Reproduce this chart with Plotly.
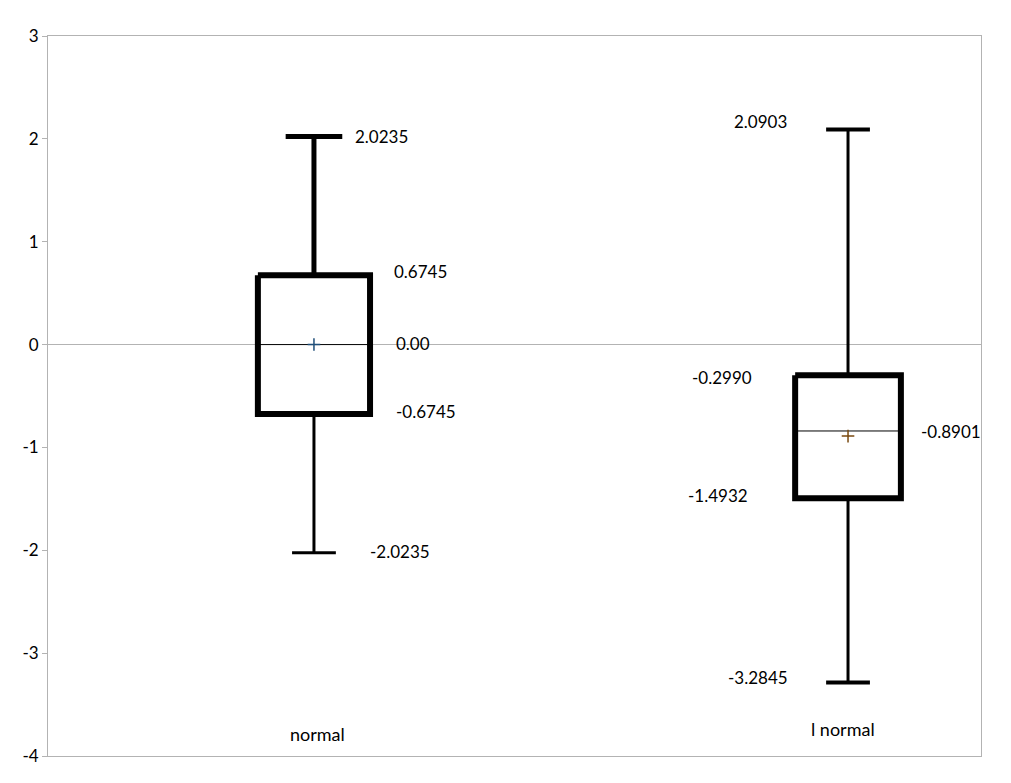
import plotly.graph_objects as go

# ---- data ----
categories = ["normal", "l normal"]
max_vals = [2.0235, 2.0903]
q3_vals = [0.6745, -0.2990]
median_vals = [0.0, -0.84]
mean_vals = [0.0, -0.8901]
q1_vals = [-0.6745, -1.4932]
min_vals = [-2.0235, -3.2845]

# value labels shown next to each box (text, value they sit at)
label_texts = [
    ["2.0235", "0.6745", "0.00", "-0.6745", "-2.0235"],
    ["2.0903", "-0.2990", "-0.8901", "-1.4932", "-3.2845"],
]
label_values = [
    [2.0235, 0.6745, 0.0, -0.6745, -2.0235],
    [2.0903, -0.2990, -0.8901, -1.4932, -3.2845],
]
tick_vals = [-4, -3, -2, -1, 0, 1, 2, 3]
tick_texts = ["-4", "-3", "-2", "-1", "0", "1", "2", "3"]

# ---- style ----
FONT = "Lato"
GRAY = "#b3b3b3"
box_half = [0.105, 0.099]
upper_cap_half = [0.053, 0.041]
lower_cap_half = [0.041, 0.041]
upper_whisker_w = [5, 3]
lower_whisker_w = [3, 3]
upper_cap_w = [5, 4]
lower_cap_w = [3, 4]
mean_colors = ["#1f4e79", "#7a4a10"]
label_dx = [
    [0.127, 0.200, 0.185, 0.210, 0.161],
    [-0.163, -0.236, 0.193, -0.243, -0.169],
]
label_dy = [
    [0, 4, 1, 2, 1],
    [8, -2, 5, 3, 5],
]
cat_yshift = [22, 27]
cat_dx = [0.007, -0.009]

fig = go.Figure()

for i, cat in enumerate(categories):
    x = i
    bw = box_half[i]
    # upper whisker + cap
    fig.add_trace(go.Scatter(x=[x, x], y=[q3_vals[i], max_vals[i]], mode="lines",
                             line=dict(color="black", width=upper_whisker_w[i]),
                             showlegend=False, hoverinfo="skip"))
    fig.add_trace(go.Scatter(x=[x - upper_cap_half[i], x + upper_cap_half[i]],
                             y=[max_vals[i], max_vals[i]], mode="lines",
                             line=dict(color="black", width=upper_cap_w[i]),
                             showlegend=False, hoverinfo="skip"))
    # lower whisker + cap
    fig.add_trace(go.Scatter(x=[x, x], y=[q1_vals[i], min_vals[i]], mode="lines",
                             line=dict(color="black", width=lower_whisker_w[i]),
                             showlegend=False, hoverinfo="skip"))
    fig.add_trace(go.Scatter(x=[x - lower_cap_half[i], x + lower_cap_half[i]],
                             y=[min_vals[i], min_vals[i]], mode="lines",
                             line=dict(color="black", width=lower_cap_w[i]),
                             showlegend=False, hoverinfo="skip"))
    # box
    fig.add_trace(go.Scatter(x=[x - bw, x + bw, x + bw, x - bw, x - bw],
                             y=[q3_vals[i], q3_vals[i], q1_vals[i], q1_vals[i], q3_vals[i]],
                             mode="lines", fill="toself", fillcolor="white",
                             line=dict(color="black", width=6),
                             showlegend=False, hoverinfo="skip"))
    # median
    fig.add_trace(go.Scatter(x=[x - bw, x + bw], y=[median_vals[i], median_vals[i]],
                             mode="lines", line=dict(color="black", width=1),
                             showlegend=False, hoverinfo="skip"))
    # mean
    fig.add_trace(go.Scatter(x=[x], y=[mean_vals[i]], mode="markers",
                             marker=dict(symbol="cross-thin", size=9,
                                         line=dict(color=mean_colors[i], width=1.5)),
                             showlegend=False, hoverinfo="skip"))
    # value labels
    for t, v, dx, dy in zip(label_texts[i], label_values[i], label_dx[i], label_dy[i]):
        fig.add_annotation(x=x + dx, y=v, text=t, showarrow=False, xref="x", yref="y",
                           xanchor="center", yanchor="middle", yshift=dy,
                           font=dict(family=FONT, size=17, color="black"))
    # category label
    fig.add_annotation(x=x + cat_dx[i], y=-4, text=cat, showarrow=False, xref="x", yref="y",
                       xanchor="center", yanchor="middle", yshift=cat_yshift[i],
                       font=dict(family=FONT, size=18, color="black"))

fig.update_layout(
    width=995, height=767,
    margin=dict(l=40, r=22, t=28, b=19, autoexpand=False),
    paper_bgcolor="white", plot_bgcolor="white",
    font=dict(family=FONT, size=17, color="black"),
    showlegend=False,
    xaxis=dict(range=[-0.498, 1.249], showticklabels=False, showgrid=False, zeroline=False,
               showline=True, mirror=True, linecolor=GRAY, linewidth=1, ticks=""),
    yaxis=dict(range=[-4, 3], tickmode="array", tickvals=tick_vals, ticktext=tick_texts,
               showgrid=False,
               zeroline=True, zerolinecolor=GRAY, zerolinewidth=1,
               showline=True, mirror=True, linecolor=GRAY, linewidth=1,
               ticks="outside", ticklen=5, tickcolor=GRAY, tickwidth=1,
               tickfont=dict(family=FONT, size=17, color="black")),
)

fig.write_html("out.html")
